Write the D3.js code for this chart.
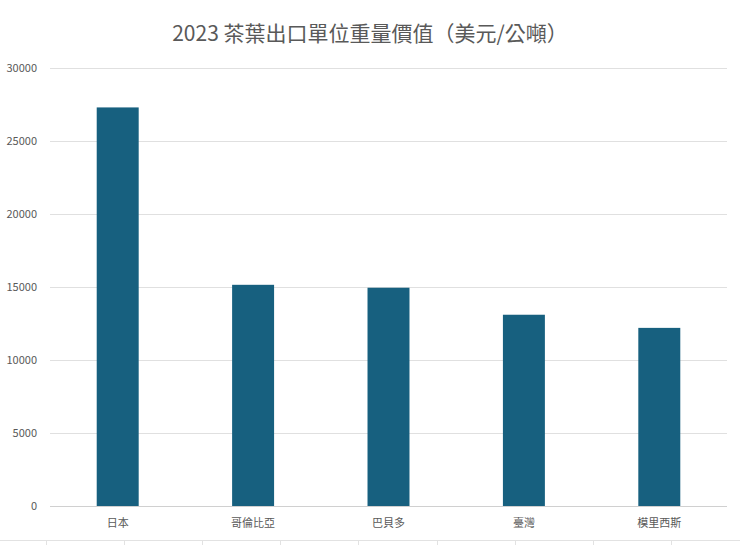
<!DOCTYPE html>
<html><head><meta charset="utf-8">
<script src="https://cdn.jsdelivr.net/npm/d3@7"></script>
<style>body{margin:0;background:#fff}</style></head>
<body><svg id="c" width="740" height="545"></svg>
<script>
const categories = ["日本","哥倫比亞","巴貝多","臺灣","模里西斯"];
const values = [27300, 15150, 14950, 13100, 12200];
const yTicks = [0,5000,10000,15000,20000,25000,30000];
const title = "2023 茶葉出口單位重量價值（美元/公噸）";

const svg = d3.select("#c");
const font = "'Noto Sans CJK TC','Noto Sans',sans-serif";
const x = d3.scaleBand().domain(categories).range([50,727]).paddingInner(0.69).paddingOuter(0.345);
const y = d3.scaleLinear().domain([0,30000]).range([506,68]);

// spreadsheet grid remnants at bottom
svg.append("line").attr("x1",0).attr("x2",740).attr("y1",540.5).attr("y2",540.5).attr("stroke","#e2e2e2");
[46,124,202,280,358,437,515,593,671].forEach(v=>svg.append("line").attr("x1",v+.5).attr("x2",v+.5).attr("y1",541).attr("y2",545).attr("stroke","#e2e2e2"));

svg.append("g").selectAll("line").data(yTicks).join("line")
  .attr("x1",50).attr("x2",727).attr("y1",d=>Math.round(y(d))+.5).attr("y2",d=>Math.round(y(d))+.5)
  .attr("stroke",d=>d===0?"#d0d0d0":"#e0e0e0");
svg.append("g").selectAll("text").data(yTicks).join("text")
  .attr("x",37).attr("y",d=>y(d)+4).attr("text-anchor","end")
  .attr("font-family",font).attr("font-size",11).attr("fill","#595959").text(d=>d);

svg.append("g").selectAll("rect").data(values).join("rect")
  .attr("x",(d,i)=>x(categories[i])).attr("width",x.bandwidth())
  .attr("y",d=>y(d)).attr("height",d=>y(0)-y(d)).attr("fill","#17607f");

svg.append("g").selectAll("text").data(categories).join("text")
  .attr("x",d=>x(d)+x.bandwidth()/2).attr("y",527).attr("text-anchor","middle")
  .attr("font-family",font).attr("font-size",11).attr("fill","#595959").text(d=>d);

svg.append("text").attr("x",370).attr("y",41).attr("text-anchor","middle")
  .attr("font-family",font).attr("font-size",21).attr("fill","#595959").text(title);
</script></body></html>
